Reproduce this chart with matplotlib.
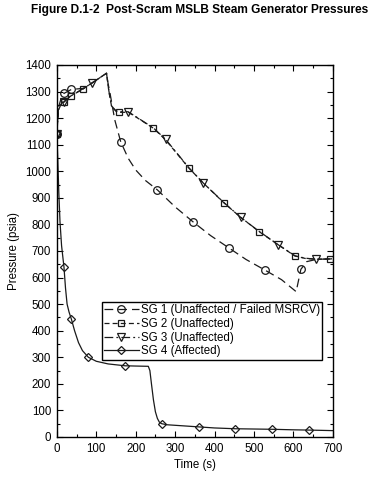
import numpy as np
import matplotlib
matplotlib.use("Agg")
import matplotlib.pyplot as plt
from matplotlib.lines import Line2D
from matplotlib.legend_handler import HandlerLine2D

plt.rcParams['font.family'] = ['Liberation Sans', 'DejaVu Sans']

# curves (time s, pressure psia)
sg1_t = [0, 4, 10, 18, 37, 67, 88, 126, 130, 135, 147, 162, 181, 200, 225, 255,
         300, 346, 390, 437, 480, 528, 570, 607, 619, 634, 660, 700]
sg1_p = [1140, 1240, 1270, 1293, 1308, 1312, 1331, 1369, 1330, 1293, 1193, 1111,
         1049, 1005, 965, 930, 866, 809, 758, 711, 668, 628, 592, 547, 631, 660,
         669, 670]

sg2_t = [0, 4, 10, 18, 35, 67, 88, 126, 132, 139, 150, 157, 181, 200, 245, 276,
         335, 372, 424, 466, 513, 562, 604, 630, 657, 693, 700]
sg2_p = [1140, 1230, 1250, 1260, 1283, 1310, 1331, 1369, 1300, 1243, 1226, 1222,
         1222, 1205, 1162, 1118, 1012, 955, 881, 827, 773, 723, 681, 672, 669,
         670, 671]

sg3_t = [0, 4, 10, 18, 35, 67, 88, 126, 132, 139, 150, 157, 181, 200, 245, 276,
         335, 372, 424, 466, 513, 562, 604, 630, 657, 693, 700]
sg3_p = [1140, 1232, 1252, 1262, 1284, 1311, 1331, 1369, 1302, 1245, 1228, 1224,
         1224, 1206, 1163, 1120, 1013, 955, 882, 827, 774, 723, 682, 673, 669,
         670, 671]

sg4_t = [0, 2, 5, 8, 12, 15, 18, 22, 26, 31, 37, 45, 55, 65, 80, 100, 130, 173,
         200, 232, 236, 240, 245, 250, 255, 260, 266, 280, 320, 360, 400, 453,
         500, 547, 600, 639, 700]
sg4_p = [1140, 1060, 920, 810, 720, 680, 641, 560, 500, 470, 443, 400, 355, 325,
         300, 285, 275, 268, 267, 266, 250, 200, 140, 95, 70, 56, 50, 46, 42, 38,
         34, 31, 30, 29, 27, 26, 24]

# symbol positions
sg1_mt = [0, 18, 37, 162, 255, 346, 437, 528, 619]
sg1_mp = [1140, 1293, 1308, 1111, 930, 809, 711, 628, 631]
sg2_mt = [0, 18, 35, 67, 157, 245, 335, 424, 513, 604, 693]
sg2_mp = [1140, 1260, 1283, 1310, 1222, 1162, 1012, 881, 773, 681, 670]
sg3_mt = [0, 18, 88, 181, 276, 372, 466, 562, 657]
sg3_mp = [1140, 1262, 1331, 1224, 1120, 955, 827, 723, 669]
sg4_mt = [0, 18, 37, 80, 173, 266, 360, 453, 547, 639]
sg4_mp = [1140, 641, 443, 300, 268, 50, 38, 31, 29, 26]

labels = ['SG 1 (Unaffected / Failed MSRCV)', 'SG 2 (Unaffected)',
          'SG 3 (Unaffected)', 'SG 4 (Affected)']


class EndMarker(HandlerLine2D):
    """put the symbol at the right end of the legend line"""
    def get_xdata(self, legend, xdescent, ydescent, width, height, fontsize):
        xdata, _ = super().get_xdata(legend, xdescent, ydescent, width, height, fontsize)
        return xdata, np.array([-xdescent + width - 3])


fig = plt.figure(figsize=(3.92, 4.8), dpi=100)
ax = fig.add_axes([0.145, 0.0896, 0.704, 0.775])

col = '#1a1a1a'
series = [
    (sg1_t, sg1_p, sg1_mt, sg1_mp, (0, (7, 4)), 'o', 5.5),
    (sg2_t, sg2_p, sg2_mt, sg2_mp, (0, (4, 2.5)), 's', 5),
    (sg3_t, sg3_p, sg3_mt, sg3_mp, (0, (7, 2.5, 1.5, 2.5)), 'v', 5.5),
    (sg4_t, sg4_p, sg4_mt, sg4_mp, '-', 'D', 4.5),
]
handles = []
for (t, p, mt, mp, ls, mk, ms), lab in zip(series, labels):
    ax.plot(t, p, color=col, lw=0.9, ls=ls)
    ax.plot(mt, mp, ls='none', marker=mk, ms=ms, mfc='none', mec=col, mew=0.9)
    handles.append(Line2D([], [], color=col, lw=0.9, ls=ls, marker=mk, ms=ms,
                          mfc='none', mec=col, mew=0.9))

ax.set_xlim(0, 700)
ax.set_ylim(0, 1400)
ax.set_xticks(np.arange(0, 701, 100))
ax.set_xticks(np.arange(0, 701, 50), minor=True)
ax.set_yticks(np.arange(0, 1401, 100))
ax.set_yticks(np.arange(0, 1401, 50), minor=True)
ax.tick_params(which='both', direction='in', top=True, right=True, labelsize=8.3,
               width=0.8, pad=4)
ax.tick_params(which='major', length=4)
ax.tick_params(which='minor', length=2.5)
for s in ax.spines.values():
    s.set_linewidth(1)

ax.set_xlabel('Time (s)', fontsize=8.3, labelpad=3)
ax.set_ylabel('Pressure (psia)', fontsize=8.3, labelpad=4)

leg = ax.legend(handles, labels, loc='upper left', bbox_to_anchor=(0.163, 0.363),
                borderaxespad=0, fontsize=8.3, handlelength=3.0, handletextpad=0.2,
                labelspacing=0.15, borderpad=0.2, fancybox=False, framealpha=1,
                edgecolor='black', handler_map={Line2D: EndMarker()})
leg.get_frame().set_linewidth(1)

fig.text(0.51, 0.979, 'Figure D.1-2  Post-Scram MSLB Steam Generator Pressures',
         ha='center', va='center', fontsize=8.6, fontweight='bold')

fig.savefig('out.png', dpi=100)
